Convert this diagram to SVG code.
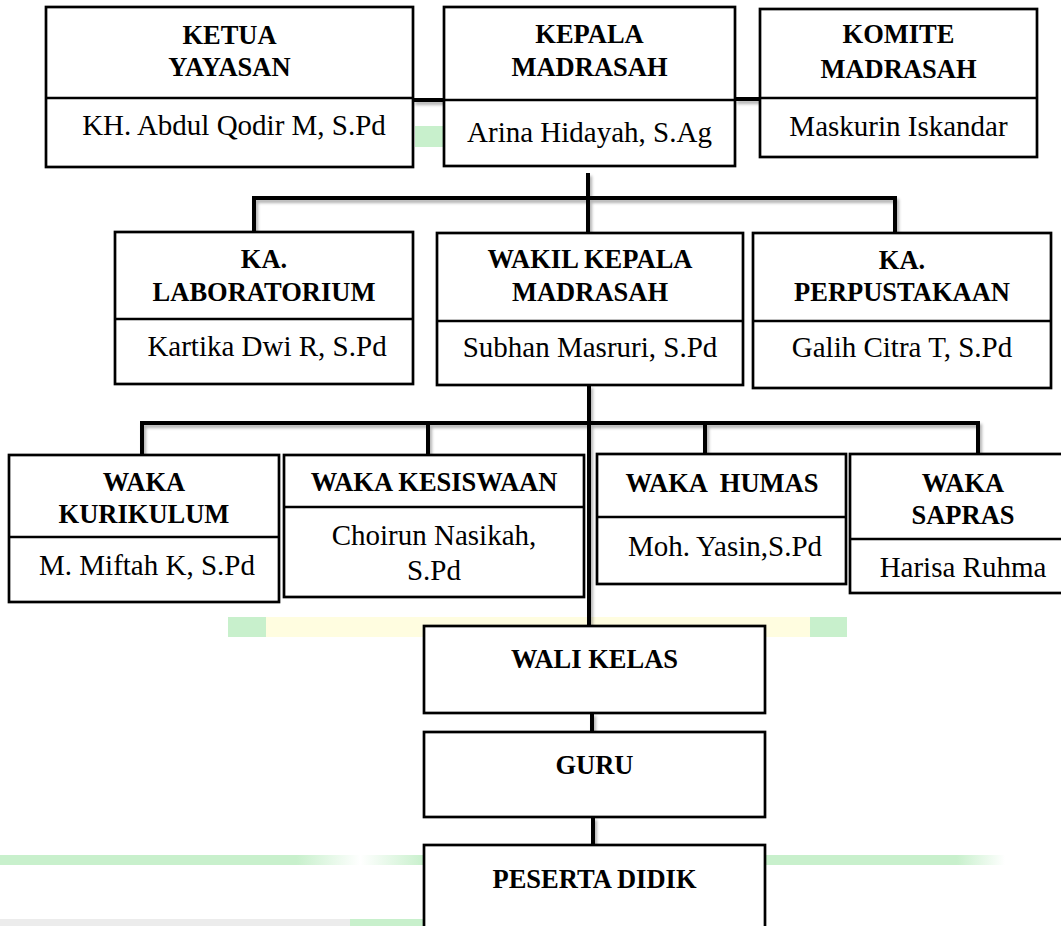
<svg xmlns="http://www.w3.org/2000/svg" width="1061" height="926" viewBox="0 0 1061 926">
<style>
.box{fill:#fff;stroke:#000;stroke-width:2.7}
.dv{stroke:#000;stroke-width:2.7}
.h{font-family:"Liberation Serif","Times New Roman",serif;font-weight:bold;font-size:26.5px;text-anchor:middle;fill:#000}
.n{font-family:"Liberation Serif","Times New Roman",serif;font-size:29px;text-anchor:middle;fill:#000}
.c{fill:none;stroke:#000;stroke-width:4}
</style>
<defs>
<filter id="sh" x="-10%" y="-10%" width="120%" height="140%">
<feDropShadow dx="2" dy="3" stdDeviation="1.5" flood-color="#000" flood-opacity="0.3"/>
</filter>
<linearGradient id="gl" x1="0" y1="0" x2="1" y2="0">
<stop offset="0" stop-color="#c8f0cc"/>
<stop offset="0.7" stop-color="#c8f0cc"/>
<stop offset="0.85" stop-color="#ffffff"/>
<stop offset="1" stop-color="#c8f0cc"/>
</linearGradient>
<linearGradient id="gr" x1="0" y1="0" x2="1" y2="0">
<stop offset="0" stop-color="#c8f0cc"/>
<stop offset="0.8" stop-color="#c8f0cc"/>
<stop offset="1" stop-color="#ffffff"/>
</linearGradient>
</defs>
<rect width="1061" height="926" fill="#fff"/>
<g id="background">
<rect x="415" y="126" width="29" height="21" fill="#c8f0cc"/>
<rect x="228" y="617" width="38" height="20" fill="#c8f0cc"/>
<rect x="266" y="617" width="544" height="20" fill="#fffde0"/>
<rect x="810" y="617" width="37" height="20" fill="#c8f0cc"/>
<rect x="0" y="855" width="424" height="10" fill="url(#gl)"/>
<rect x="765" y="855" width="240" height="10" fill="url(#gr)"/>
<rect x="0" y="919" width="350" height="7" fill="#ececec"/>
<rect x="350" y="919" width="74" height="7" fill="#c8f0cc"/>
</g>
<g id="connectors" filter="url(#sh)">
<line class="c" x1="413" y1="100" x2="444" y2="100"/>
<line class="c" x1="735" y1="99" x2="760" y2="99"/>
<line class="c" x1="588" y1="173" x2="588" y2="233"/>
<polyline class="c" points="254,232 254,198 895,198 895,233"/>
<line class="c" x1="589" y1="385" x2="589" y2="626"/>
<polyline class="c" points="142,455 142,423 978,423 978,454"/>
<line class="c" x1="428" y1="423" x2="428" y2="455"/>
<line class="c" x1="705" y1="423" x2="705" y2="454"/>
<line class="c" x1="592" y1="713" x2="592" y2="732"/>
<line class="c" x1="593" y1="817" x2="593" y2="845"/>
</g>
<g id="ketua-yayasan">
<rect class="box" x="46" y="7" width="367" height="160"/>
<line class="dv" x1="46" y1="98" x2="413" y2="98"/>
<text class="h" x="229.5" y="44">KETUA</text>
<text class="h" x="229.5" y="76">YAYASAN</text>
<text class="n" x="234" y="135">KH. Abdul Qodir M, S.Pd</text>
</g>
<g id="kepala-madrasah">
<rect class="box" x="444" y="7" width="291" height="159"/>
<line class="dv" x1="444" y1="100" x2="735" y2="100"/>
<text class="h" x="589.5" y="43">KEPALA</text>
<text class="h" x="589.5" y="76">MADRASAH</text>
<text class="n" x="589.5" y="142">Arina Hidayah, S.Ag</text>
</g>
<g id="komite-madrasah">
<rect class="box" x="760" y="9" width="277" height="148"/>
<line class="dv" x1="760" y1="98" x2="1037" y2="98"/>
<text class="h" x="898.5" y="43">KOMITE</text>
<text class="h" x="898.5" y="78">MADRASAH</text>
<text class="n" x="898.5" y="136">Maskurin Iskandar</text>
</g>
<g id="ka-laboratorium">
<rect class="box" x="115" y="232" width="298" height="152"/>
<line class="dv" x1="115" y1="319" x2="413" y2="319"/>
<text class="h" x="264" y="268">KA.</text>
<text class="h" x="264" y="301">LABORATORIUM</text>
<text class="n" x="267" y="356">Kartika Dwi R, S.Pd</text>
</g>
<g id="wakil-kepala-madrasah">
<rect class="box" x="437" y="233" width="306" height="152"/>
<line class="dv" x1="437" y1="321" x2="743" y2="321"/>
<text class="h" x="590" y="268">WAKIL KEPALA</text>
<text class="h" x="590" y="301">MADRASAH</text>
<text class="n" x="590" y="357">Subhan Masruri, S.Pd</text>
</g>
<g id="ka-perpustakaan">
<rect class="box" x="753" y="233" width="298" height="155"/>
<line class="dv" x1="753" y1="321" x2="1051" y2="321"/>
<text class="h" x="902" y="269">KA.</text>
<text class="h" x="902" y="301">PERPUSTAKAAN</text>
<text class="n" x="902" y="357">Galih Citra T, S.Pd</text>
</g>
<g id="waka-kurikulum">
<rect class="box" x="9" y="455" width="270" height="147"/>
<line class="dv" x1="9" y1="537" x2="279" y2="537"/>
<text class="h" x="144" y="491">WAKA</text>
<text class="h" x="144" y="523">KURIKULUM</text>
<text class="n" x="147" y="575">M. Miftah K, S.Pd</text>
</g>
<g id="waka-kesiswaan">
<rect class="box" x="284" y="455" width="300" height="142"/>
<line class="dv" x1="284" y1="507" x2="584" y2="507"/>
<text class="h" x="434" y="491">WAKA KESISWAAN</text>
<text class="n" x="434" y="545">Choirun Nasikah,</text>
<text class="n" x="434" y="580">S.Pd</text>
</g>
<g id="waka-humas">
<rect class="box" x="597" y="454" width="249" height="130"/>
<line class="dv" x1="597" y1="517" x2="846" y2="517"/>
<text class="h" x="722" y="492" xml:space="preserve">WAKA  HUMAS</text>
<text class="n" x="725" y="556">Moh. Yasin,S.Pd</text>
</g>
<g id="waka-sapras">
<rect class="box" x="850" y="454" width="230" height="139"/>
<line class="dv" x1="850" y1="539" x2="1080" y2="539"/>
<text class="h" x="963" y="492">WAKA</text>
<text class="h" x="963" y="524">SAPRAS</text>
<text class="n" x="963" y="577">Harisa Ruhma</text>
</g>
<g id="wali-kelas">
<rect class="box" x="424" y="626" width="341" height="87"/>
<text class="h" x="594.5" y="668">WALI KELAS</text>
</g>
<g id="guru">
<rect class="box" x="424" y="732" width="341" height="85"/>
<text class="h" x="594.5" y="774">GURU</text>
</g>
<g id="peserta-didik">
<rect class="box" x="424" y="845" width="341" height="100"/>
<text class="h" x="594.5" y="888">PESERTA DIDIK</text>
</g>
</svg>
